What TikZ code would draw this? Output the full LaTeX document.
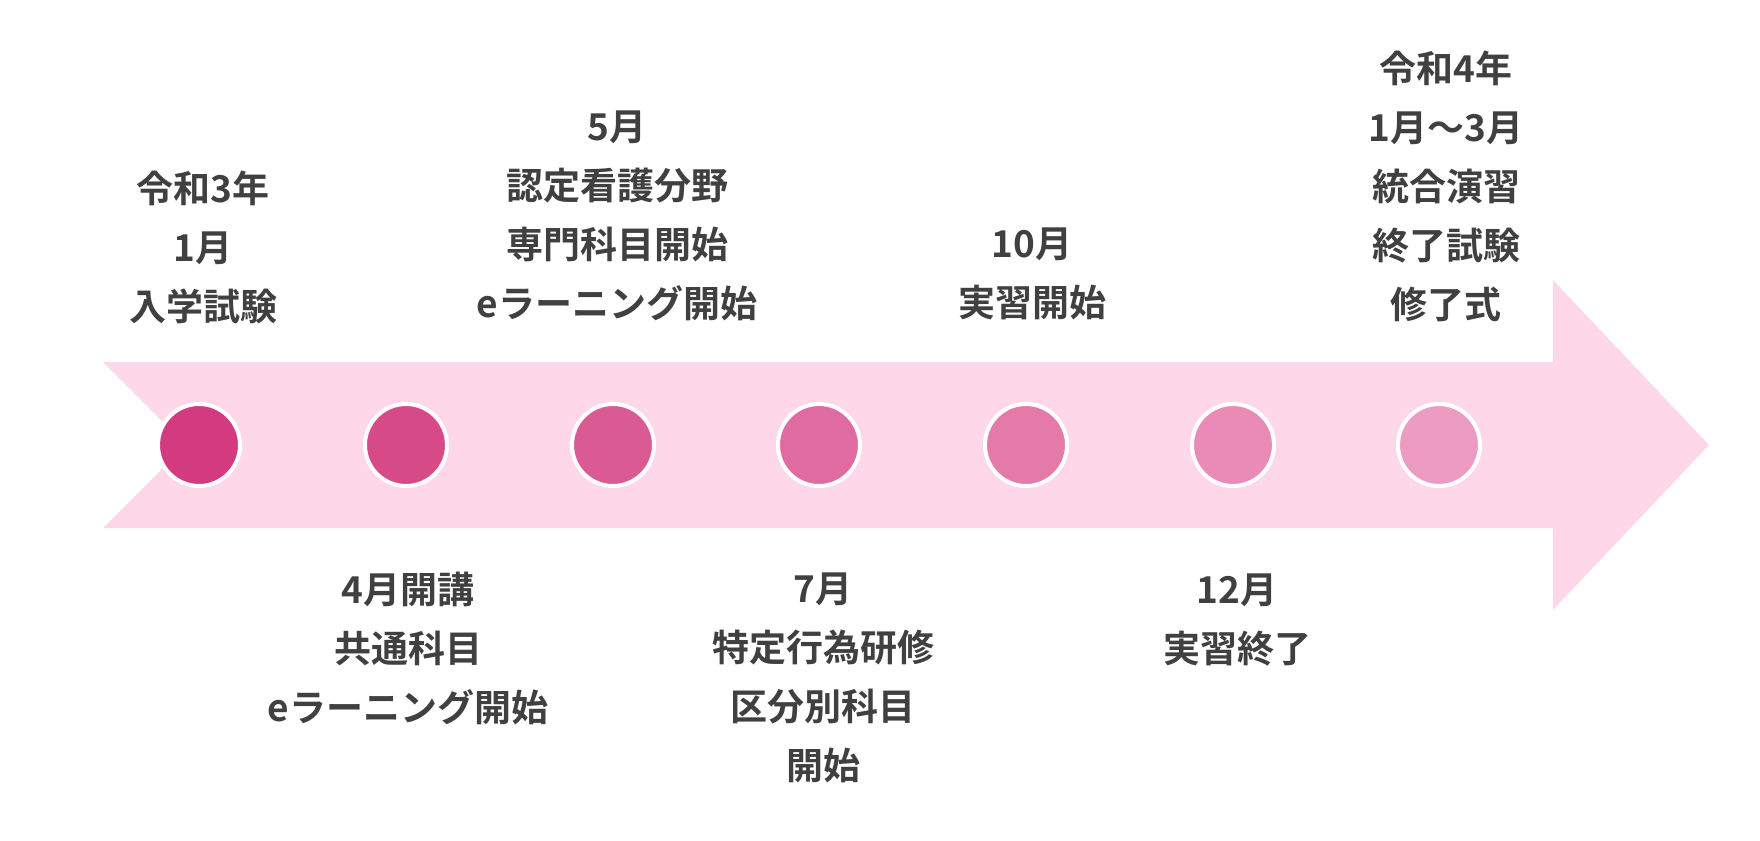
\documentclass[tikz,border=0pt]{standalone}
\usepackage{fontspec}
\setmainfont{Noto Sans CJK JP}[BoldFont=* Bold]
\usetikzlibrary{positioning}
\definecolor{bandpink}{HTML}{FED8E8}
\definecolor{textgray}{HTML}{404040}
\definecolor{dotA}{HTML}{D33A7F}
\definecolor{dotB}{HTML}{D74A88}
\definecolor{dotC}{HTML}{DA5B93}
\definecolor{dotD}{HTML}{DF6BA0}
\definecolor{dotE}{HTML}{E47AA9}
\definecolor{dotF}{HTML}{E98BB6}
\definecolor{dotG}{HTML}{EC9BC2}

\begin{document}
\begin{tikzpicture}[x=0.5pt, y=-0.5pt,
    dot/.style={
        circle,
        minimum size=41pt,
        inner sep=0pt,
        draw=white,
        line width=2pt
    },
    label/.style={
        align=center,
        inner sep=0pt,
        text=textgray,
        font=\fontsize{18.5}{29.5}\selectfont\bfseries
    }]
    \useasboundingbox (0, 0) rectangle (1760, 840);

    % band
    \fill[bandpink] (103, 362) -- (1553, 362) -- (1553, 280) -- (1709, 445)
        -- (1553, 610) -- (1553, 528) -- (103, 528) -- (186, 445) -- cycle;



    \node (jan21_dot) [dot, fill=dotA] at (199, 445) {};
    \node (apr_dot) [dot, fill=dotB] at (406, 445) {};
    \node (may_dot) [dot, fill=dotC] at (613, 445) {};
    \node (jul_dot) [dot, fill=dotD] at (819, 445) {};
    \node (oct_dot) [dot, fill=dotE] at (1026, 445) {};
    \node (dec_dot) [dot, fill=dotF] at (1233, 445) {};
    \node (jan22_dot) [dot, fill=dotG] at (1439, 445) {};



    \node (jan21_txt) [label] at (203, 247)
    {
        令和3年\\1月\\入学試験
    };
    \node (may_txt) [label] at (617, 216)
    {
        5月\\認定看護分野\\専門科目開始\\eラーニング開始
    };
    \node (oct_txt) [label] at (1032, 274)
    {
        10月\\実習開始
    };
    \node (jan22_txt) [label] at (1446, 186)
    {
        令和4年\\1月～3月\\統合演習\\終了試験\\修了式
    };



    \node (apr_txt) [label] at (408, 649)
    {
        4月開講\\共通科目\\eラーニング開始
    };
    \node (jul_txt) [label] at (823, 678)
    {
        7月\\特定行為研修\\区分別科目\\開始
    };
    \node (dec_txt) [label] at (1237, 620)
    {
        12月\\実習終了
    };


\end{tikzpicture}
\end{document}
